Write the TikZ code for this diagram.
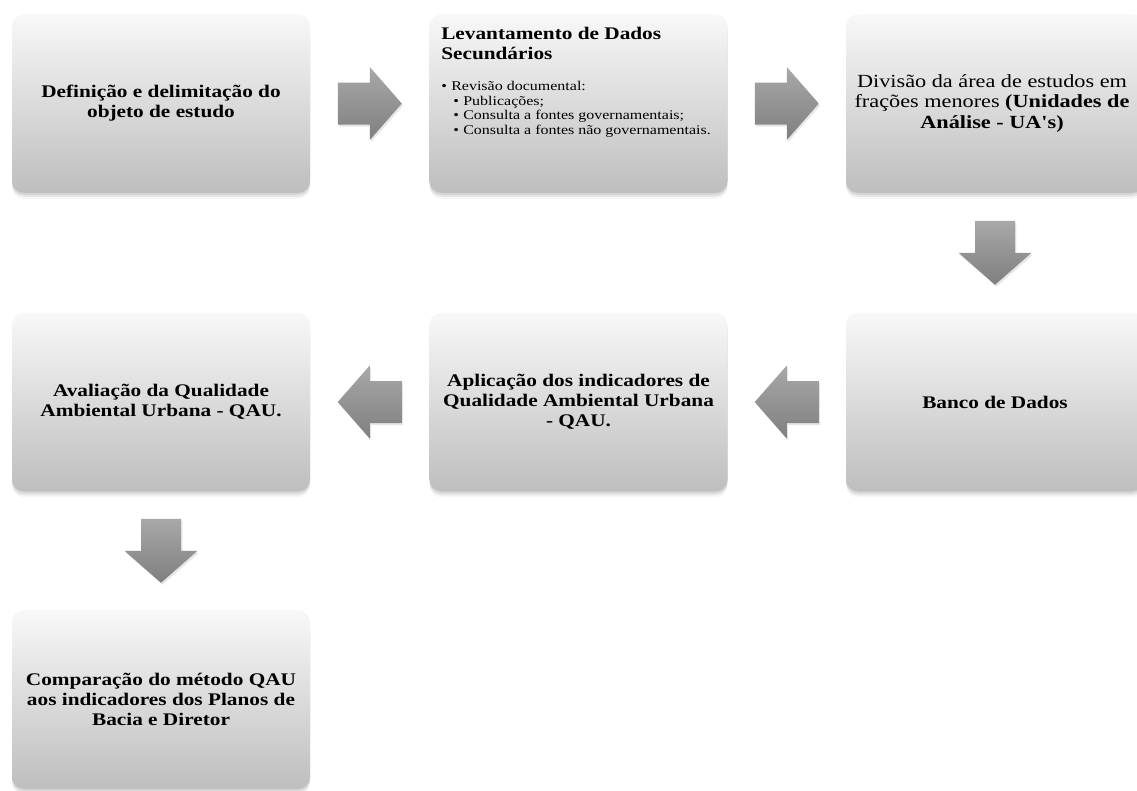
\documentclass[tikz,border=0pt]{standalone}
\usepackage{fontspec}
\setmainfont{Liberation Serif}[FakeStretch=1.2,Ligatures=TeXOff]
\usetikzlibrary{calc}
\definecolor{boxtop}{HTML}{F8F8F8}
\definecolor{boxbot}{HTML}{BEBEBE}
\definecolor{arrtop}{HTML}{A8A8A8}
\definecolor{arrbot}{HTML}{7F7F7F}
\newcommand\boxtitlefont{\bfseries\fontsize{13.3}{15}\selectfont}
\newcommand\boxplainfont{\fontsize{13.9}{15.2}\selectfont}
\newcommand\bulletfont{\fontsize{10}{10.9}\selectfont}
\begin{document}
\begin{tikzpicture}[x=0.75pt,y=-0.75pt,
  stepbox/.style={rectangle, rounded corners=9pt, minimum width=223.5pt,
    minimum height=134pt, inner sep=0pt, top color=boxtop, bottom color=boxbot,
    draw=none, align=center, font=\boxtitlefont,
    preaction={fill=black,opacity=0.08,transform canvas={yshift=-1.5pt}},
    preaction={fill=black,opacity=0.06,transform canvas={yshift=-3pt}},
    preaction={fill=black,opacity=0.035,transform canvas={yshift=-4.5pt}}},
  arrowstyle/.style={top color=arrtop, bottom color=arrbot,
    preaction={fill=black,opacity=0.10,transform canvas={xshift=1pt,yshift=-1.5pt}}},
  rarrow/.pic={\path[arrowstyle] (-32,-21) -- (0,-21) -- (0,-36.5) -- (32,0)
    -- (0,36.5) -- (0,21) -- (-32,21) -- cycle;},
  darrow/.pic={\path[arrowstyle] (-20,-32) -- (-20,0) -- (-36.5,0) -- (0,32)
    -- (36.5,0) -- (20,0) -- (20,-32) -- cycle;},
  listtext/.style={anchor=north west, inner sep=0pt, align=left}
]
\useasboundingbox (0,0) rectangle (1137,790);
\clip (0,0) rectangle (1137,790);
\fill[white] (0,0) rectangle (1137,790);

\node[stepbox] (b1) at (161,103.5) {Definição e delimitação do\\objeto de estudo};
\node[stepbox] (b2) at (578.5,103.5) {};
\node[stepbox] (b3) at (995,103.5) {};
\node[stepbox] (b4) at (995,402) {Banco de Dados};
\node[stepbox] (b5) at (578.5,402) {Aplicação dos indicadores de\\Qualidade Ambiental Urbana\\- QAU.};
\node[stepbox] (b6) at (161,402) {Avaliação da Qualidade\\Ambiental Urbana - QAU.};
\node[stepbox] (b7) at (161,699.5) {Comparação do método QAU\\aos indicadores dos Planos de\\Bacia e Diretor};

\node[listtext, font=\boxtitlefont] (b2title) at (441,27) {Levantamento de Dados\\Secundários};
\node[listtext, font=\bulletfont] (b2list) at (441,81) {%
  \makebox[7.5pt][l]{\textbullet}Revisão documental:\\
  \hspace*{9pt}\makebox[7.5pt][l]{\textbullet}Publicações;\\
  \hspace*{9pt}\makebox[7.5pt][l]{\textbullet}Consulta a fontes governamentais;\\
  \hspace*{9pt}\makebox[7.5pt][l]{\textbullet}Consulta a fontes não governamentais.};

\node[inner sep=0pt, align=center, font=\boxplainfont] (b3text) at (992,103.5)
  {Divisão da área de estudos em\\frações menores \textbf{(Unidades de}\\\textbf{Análise - UA's)}};

\coordinate (a12) at ($(b1.east)!0.5!(b2.west)$);
\coordinate (a23) at ($(b2.east)!0.5!(b3.west)$);
\coordinate (a34) at ($(b3.south)!0.5!(b4.north)$);
\coordinate (a45) at ($(b4.west)!0.5!(b5.east)$);
\coordinate (a56) at ($(b5.west)!0.5!(b6.east)$);
\coordinate (a67) at ($(b6.south)!0.5!(b7.north)$);

\pic at (a12) {rarrow};
\pic at (a23) {rarrow};
\pic at (a34) {darrow};
\pic[xscale=-1] at (a45) {rarrow};
\pic[xscale=-1] at (a56) {rarrow};
\pic at (a67) {darrow};
\end{tikzpicture}
\end{document}
